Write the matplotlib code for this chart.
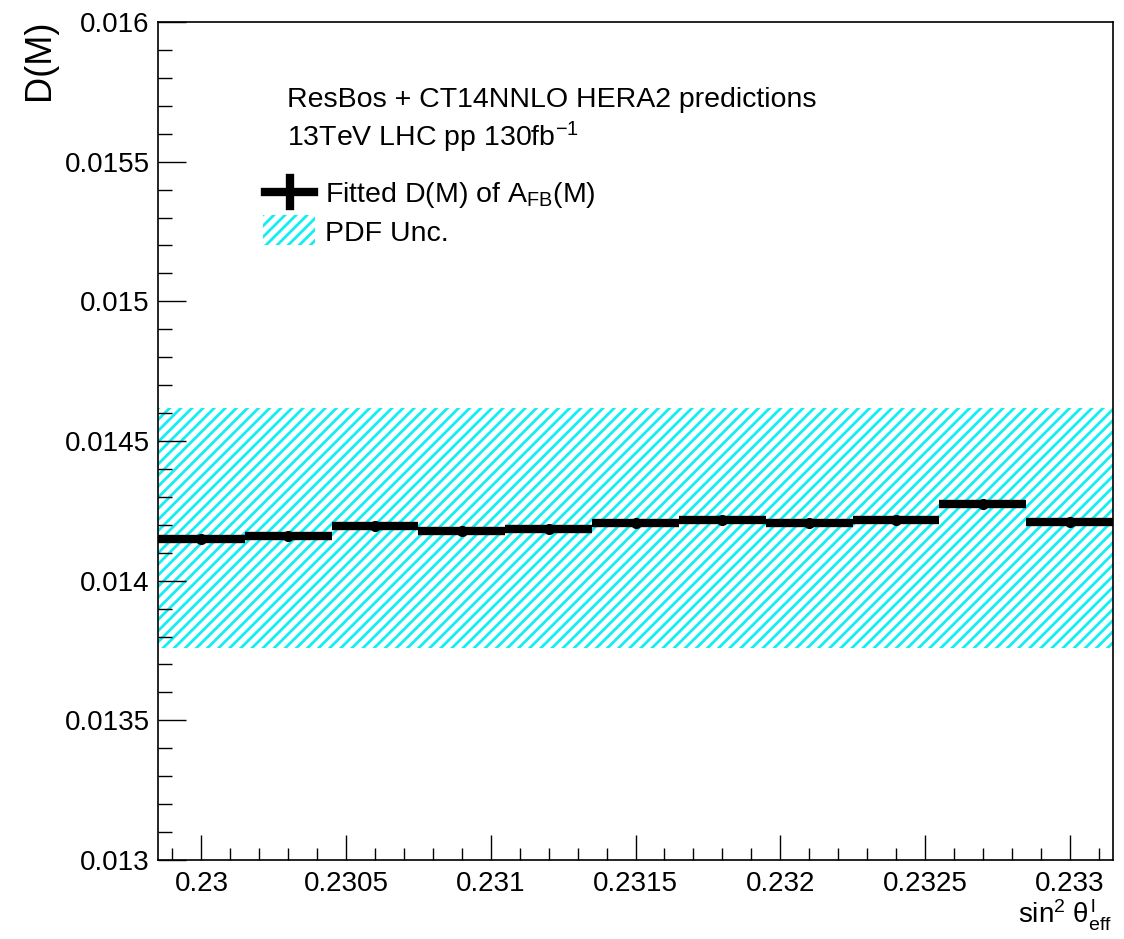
import numpy as np
import matplotlib
matplotlib.use('Agg')
import matplotlib.pyplot as plt
from matplotlib.patches import Rectangle
from matplotlib.ticker import MultipleLocator, FormatStrFormatter

plt.rcParams['font.family'] = ['Liberation Sans', 'DejaVu Sans']
plt.rcParams['mathtext.fontset'] = 'custom'
plt.rcParams['mathtext.rm'] = 'Liberation Sans'
plt.rcParams['mathtext.it'] = 'Liberation Sans'
plt.rcParams['mathtext.bf'] = 'Liberation Sans:bold'
plt.rcParams['hatch.linewidth'] = 2.0

# sin^2 theta bin centres and fitted D(M)
sin2_centres = [0.2300, 0.2303, 0.2306, 0.2309, 0.2312, 0.2315,
                0.2318, 0.2321, 0.2324, 0.2327, 0.2330]
bin_half = 0.00015
d_fit = [0.014149, 0.014159, 0.014194, 0.014177, 0.014185, 0.014205,
         0.014216, 0.014205, 0.014216, 0.014275, 0.014210]
d_err = [0.000004] * 11

# PDF uncertainty band
pdf_lo = 0.01376
pdf_hi = 0.014618

x_lim = (0.22985, 0.23315)
y_lim = (0.013, 0.016)

fig = plt.figure(figsize=(11.24, 9.39), dpi=100)
ax = fig.add_axes([158 / 1124, 1 - 860 / 939, (1113 - 158) / 1124, (860 - 22) / 939])

band_color = '#12eef2'
ax.fill_between(x_lim, [pdf_lo] * 2, [pdf_hi] * 2, facecolor='white',
                edgecolor=band_color, hatch='///', linewidth=0, zorder=1)

ax.errorbar(sin2_centres, d_fit, xerr=bin_half, yerr=d_err, fmt='o', color='black',
            ms=7, elinewidth=6, capsize=0, zorder=3)

ax.set_xlim(*x_lim)
ax.set_ylim(*y_lim)

ax.xaxis.set_major_locator(MultipleLocator(0.0005))
ax.xaxis.set_minor_locator(MultipleLocator(0.0001))
ax.yaxis.set_major_locator(MultipleLocator(0.0005))
ax.yaxis.set_minor_locator(MultipleLocator(0.0001))
ax.xaxis.set_major_formatter(FormatStrFormatter('%g'))
ax.yaxis.set_major_formatter(FormatStrFormatter('%g'))

ax.tick_params(axis='both', which='both', direction='in', labelsize=20, width=1.0,
               top=False, right=False)
ax.tick_params(axis='x', which='major', length=18, pad=8)
ax.tick_params(axis='x', which='minor', length=9)
ax.tick_params(axis='y', which='major', length=20, pad=6)
ax.tick_params(axis='y', which='minor', length=10)
for sp in ax.spines.values():
    sp.set_linewidth(1.2)

fig.text(40 / 1124, 1 - 20 / 939, 'D(M)', rotation=90, ha='center', va='top', fontsize=26)
fig.text(1112 / 1124, 1 - 922 / 939, r'sin$^2$ $\theta^{l}_{\mathrm{eff}}$',
         ha='right', va='baseline', fontsize=20)

fig.text(287 / 1124, 1 - 107 / 939, 'ResBos + CT14NNLO HERA2 predictions',
         ha='left', va='baseline', fontsize=20.5)
fig.text(287 / 1124, 1 - 146 / 939, r'13TeV LHC pp 130fb$^{-1}$',
         ha='left', va='baseline', fontsize=20.5)

# legend entries
fig.add_artist(plt.Line2D([265 / 1124, 314 / 1124], [1 - 192 / 939] * 2,
                          color='black', lw=6, transform=fig.transFigure))
fig.add_artist(plt.Line2D([290 / 1124] * 2, [1 - 178 / 939, 1 - 206 / 939],
                          color='black', lw=6, transform=fig.transFigure))
fig.text(325 / 1124, 1 - 202 / 939, r'Fitted D(M) of A$_{\mathrm{FB}}$(M)',
         ha='left', va='baseline', fontsize=20.5)
fig.add_artist(Rectangle((263 / 1124, 1 - 245 / 939), 52 / 1124, 30 / 939,
                         facecolor='white', edgecolor=band_color, hatch='///',
                         linewidth=0, transform=fig.transFigure))
fig.text(325 / 1124, 1 - 241 / 939, 'PDF Unc.', ha='left', va='baseline', fontsize=20.5)

fig.savefig('out.png', dpi=100)
